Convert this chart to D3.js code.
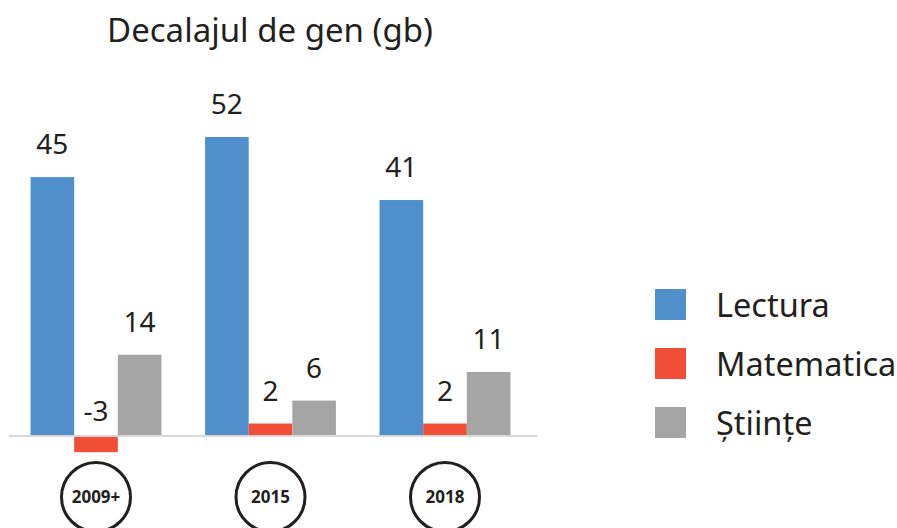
<!DOCTYPE html>
<html><head><meta charset="utf-8">
<script src="https://cdn.jsdelivr.net/npm/d3@7"></script>
<style>body{margin:0;background:#fff}svg{display:block}text{font-family:"Noto Sans","Open Sans",sans-serif;fill:#231f20}</style>
</head><body><svg id="c" width="897" height="528"></svg>
<script>
const categories = ["2009+", "2015", "2018"];
const seriesNames = ["Lectura", "Matematica", "Științe"];
const lectura = [45, 52, 41];
const matematica = [-3, 2, 2];
const stiinte = [14, 6, 11];
const colors = ["#4f8fcc", "#f04e37", "#a5a5a5"];
const title = "Decalajul de gen (gb)";

const values = [lectura, matematica, stiinte];
const svg = d3.select("#c");

const x0 = d3.scaleBand().domain(categories).range([8.75, 532.25]).paddingInner(0.25).paddingOuter(0.125);
const x1 = d3.scaleBand().domain(seriesNames).range([0, x0.bandwidth()]);
const y = d3.scaleLinear().domain([0, 52]).range([435, 137]);

svg.append("text").attr("x", 270).attr("y", 42).attr("text-anchor", "middle")
  .style("font-size", "33px").text(title);

const g = svg.append("g");
categories.forEach((c, i) => {
  seriesNames.forEach((s, j) => {
    const v = values[j][i];
    const bx = x0(c) + x1(s);
    g.append("rect").attr("x", bx).attr("width", x1.bandwidth())
      .attr("y", Math.min(y(v), y(0))).attr("height", Math.abs(y(v) - y(0)))
      .attr("fill", colors[j]);
    const ly = v >= 0 ? y(v) - 23 : y(0) - 14;
    g.append("text").attr("x", bx + x1.bandwidth() / 2).attr("y", ly)
      .attr("text-anchor", "middle").style("font-size", "28px").text(v);
  });
});

svg.append("line").attr("x1", 9).attr("x2", 537).attr("y1", y(0) + 1).attr("y2", y(0) + 1)
  .attr("stroke", "#d9d9d9").attr("stroke-width", 2);

categories.forEach(c => {
  const cx = x0(c) + x0.bandwidth() / 2;
  svg.append("circle").attr("cx", cx).attr("cy", 497).attr("r", 34.5)
    .attr("fill", "none").attr("stroke", "#231f20").attr("stroke-width", 3);
  svg.append("text").attr("x", cx).attr("y", 502.5).attr("text-anchor", "middle")
    .style("font-size", "17px").style("font-weight", "bold").text(c);
});

const leg = svg.append("g");
seriesNames.forEach((s, j) => {
  const cy = 304.5 + j * 59;
  leg.append("rect").attr("x", 655).attr("y", cy - 15.5).attr("width", 31).attr("height", 31).attr("fill", colors[j]);
  leg.append("text").attr("x", 716).attr("y", cy + 12).style("font-size", "32.5px").text(s);
});
</script></body></html>
